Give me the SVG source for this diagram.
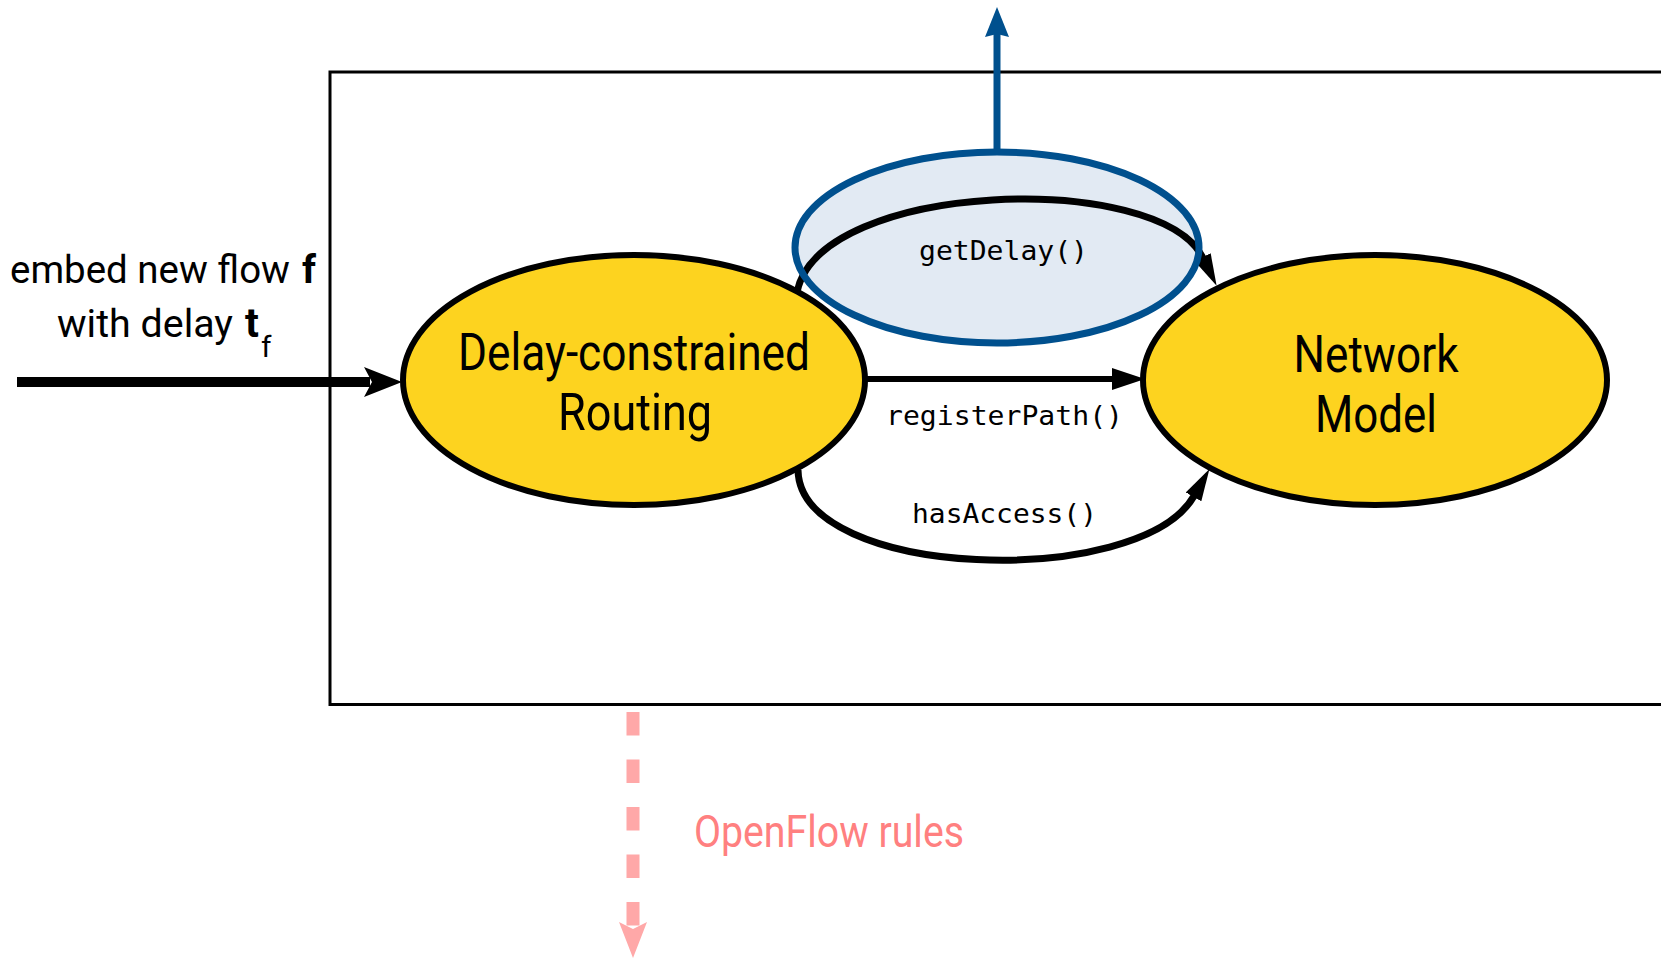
<svg xmlns="http://www.w3.org/2000/svg" width="1661" height="959" viewBox="0 0 1661 959">
  <style>
    .frame { fill: none; stroke: #000; stroke-width: 3; }
    .node { fill: #fdd31f; stroke: #000; stroke-width: 6; }
    .label { font-family: "Roboto", "Liberation Sans", sans-serif; fill: #000; }
    .node-label { font-size: 52px; text-anchor: middle; }
    .mono { font-family: "DejaVu Sans Mono", "Liberation Mono", monospace; font-size: 27px; fill: #000; text-anchor: middle; }
    .edge { fill: none; stroke: #000; stroke-width: 7; }
  </style>
  <defs>
    <marker id="head" markerUnits="userSpaceOnUse" markerWidth="34" markerHeight="24" viewBox="0 0 34 24" refX="1" refY="12" orient="auto">
      <path d="M0,3 L32,12 L0,21 z" fill="#000"/>
    </marker>
  </defs>

  <rect class="frame" x="330" y="72" width="1400" height="632.5"/>

  <!-- delay query bubble (fill below the arc, outline above) -->
  <ellipse id="delay-bubble-fill" cx="997" cy="247.5" rx="202" ry="95.5" fill="#e2eaf3"/>

  <g id="connectors">
    <!-- incoming request -->
    <line x1="17" y1="382" x2="370" y2="382" stroke="#000" stroke-width="10"/>
    <path d="M364,367 L402,382 L364,397 L372,382 z" fill="#000"/>
    <!-- getDelay() -->
    <path class="edge" d="M797,292 C820,180 1160,170 1203,258" marker-end="url(#head)"/>
    <!-- registerPath() -->
    <line x1="865" y1="379" x2="1114" y2="379" stroke="#000" stroke-width="6"/>
    <path d="M1112,368 L1145,379 L1112,390 z" fill="#000"/>
    <!-- hasAccess() -->
    <path class="edge" d="M798,470 C800,580 1140,590 1194,496" marker-end="url(#head)"/>
    <!-- delay result upward -->
    <line x1="997" y1="152" x2="997" y2="32" stroke="#00508e" stroke-width="7"/>
    <path d="M985,37 L997,7 L1009,37 L997,34 z" fill="#00508e"/>
    <!-- OpenFlow rules downward -->
    <line x1="633" y1="712" x2="633" y2="926" stroke="#ffa8a8" stroke-width="13" stroke-dasharray="23.5 24"/>
    <path d="M619,922 L633,929 L647,922 L633,958 z" fill="#ffa8a8"/>
  </g>

  <ellipse id="delay-bubble" cx="997" cy="247.5" rx="202" ry="95.5" fill="none" stroke="#00508e" stroke-width="7"/>

  <g id="routing">
    <ellipse class="node" cx="634" cy="380" rx="231" ry="125"/>
    <text class="label node-label" x="634" y="370" textLength="352" lengthAdjust="spacingAndGlyphs">Delay-constrained</text>
    <text class="label node-label" x="635" y="430" textLength="154" lengthAdjust="spacingAndGlyphs">Routing</text>
  </g>

  <g id="network-model">
    <ellipse class="node" cx="1375" cy="380" rx="232" ry="125"/>
    <text class="label node-label" x="1376" y="372" textLength="165" lengthAdjust="spacingAndGlyphs">Network</text>
    <text class="label node-label" x="1376" y="432" textLength="122" lengthAdjust="spacingAndGlyphs">Model</text>
  </g>

  <g id="edge-labels">
    <text class="mono" x="1003.5" y="260" textLength="169" lengthAdjust="spacingAndGlyphs">getDelay()</text>
    <text class="mono" x="1004.5" y="425" textLength="237" lengthAdjust="spacingAndGlyphs">registerPath()</text>
    <text class="mono" x="1004.5" y="523" textLength="185" lengthAdjust="spacingAndGlyphs">hasAccess()</text>
  </g>

  <g id="request-label" class="label">
    <text x="10" y="283" font-size="39" textLength="280" lengthAdjust="spacingAndGlyphs">embed new flow</text>
    <text x="302" y="283" font-size="39" font-weight="bold">f</text>
    <text x="57" y="337" font-size="39" textLength="176" lengthAdjust="spacingAndGlyphs">with delay</text>
    <text x="245" y="337" font-size="41" font-weight="bold">t</text>
    <text x="261" y="357" font-size="30">f</text>
  </g>

  <g id="openflow-label">
    <text class="label" x="694" y="847" font-size="44" style="fill:#ff8080" textLength="270" lengthAdjust="spacingAndGlyphs">OpenFlow rules</text>
  </g>
</svg>
